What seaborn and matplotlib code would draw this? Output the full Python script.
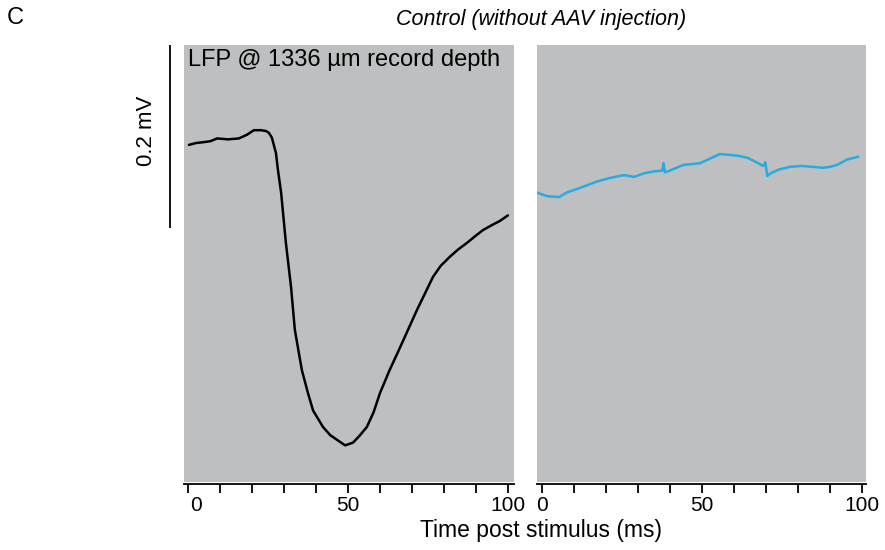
import numpy as np
import pandas as pd
import matplotlib
matplotlib.use("Agg")
import matplotlib.pyplot as plt
import matplotlib.transforms as mtransforms
import seaborn as sns

# ---- data (time in ms, voltage in mV) ----
lfp_time = [0.3, 2.5, 5.0, 7.0, 9.1, 12.5, 15.9, 18.4, 20.6, 22.8, 24.5, 25.3, 26.2,
            27.5, 28.1, 29.1, 30.6, 32.2, 33.4, 35.6, 37.5, 39.1, 42.2, 44.5, 46.6,
            49.1, 51.6, 53.5, 55.9, 58.0, 60.0, 63.0, 66.3, 71.6, 76.6, 79.0, 81.9,
            84.5, 87.2, 90.0, 92.2, 95.3, 97.5, 100.0]
lfp_mv = [0.000, 0.002, 0.003, 0.004, 0.007, 0.006, 0.007, 0.011, 0.016, 0.016, 0.015,
          0.013, 0.008, -0.009, -0.027, -0.052, -0.107, -0.155, -0.202, -0.246, -0.271,
          -0.290, -0.308, -0.317, -0.322, -0.328, -0.325, -0.318, -0.308, -0.292, -0.271,
          -0.246, -0.221, -0.180, -0.144, -0.132, -0.122, -0.114, -0.107, -0.099, -0.093,
          -0.087, -0.083, -0.077]

ctrl_time = [-1.6, 1.6, 5.3, 7.8, 11.9, 17.2, 21.3, 25.6, 28.8, 31.9, 35.0, 37.6, 38.0,
             38.4, 39.3, 44.1, 49.4, 52.5, 55.6, 58.8, 61.5, 64.1, 66.5, 69.1, 69.8,
             70.4, 71.5, 74.0, 77.5, 81.0, 84.7, 87.8, 90.0, 92.2, 95.3, 98.8]
ctrl_mv = [-0.052, -0.056, -0.057, -0.052, -0.047, -0.040, -0.036, -0.033, -0.035, -0.031,
           -0.029, -0.028, -0.020, -0.030, -0.029, -0.022, -0.020, -0.015, -0.010, -0.011,
           -0.012, -0.014, -0.018, -0.023, -0.019, -0.034, -0.031, -0.027, -0.024, -0.023,
           -0.024, -0.025, -0.024, -0.022, -0.016, -0.013]

tick_positions = [0, 10, 20, 30, 40, 50, 60, 70, 80, 90, 100]
tick_labels = ["0", "", "", "", "", "50", "", "", "", "", "100"]
scale_bar_mv = 0.2

panel_label = "C"
title_text = "Control (without AAV injection)"
inset_text = "LFP @ 1336 µm record depth"
xlabel_text = "Time post stimulus (ms)"
scale_text = "0.2 mV"

# ---- style ----
sns.set_theme(style="white")
plt.rcParams["font.family"] = ["Liberation Sans", "DejaVu Sans"]

GRAY = "#bdbfc0"
CYAN = "#29abe2"

fig = plt.figure(figsize=(8.85, 5.5), dpi=100)
W, H = 885, 550

def ax_rect(x0, x1, y0, y1):
    return [x0 / W, 1 - y1 / H, (x1 - x0) / W, (y1 - y0) / H]

ax1 = fig.add_axes(ax_rect(184, 514, 45, 482))
ax2 = fig.add_axes(ax_rect(537, 866, 45, 482))

df1 = pd.DataFrame({"t": lfp_time, "v": lfp_mv})
df2 = pd.DataFrame({"t": ctrl_time, "v": ctrl_mv})
sns.lineplot(data=df1, x="t", y="v", ax=ax1, color="black", linewidth=1.8, sort=False)
sns.lineplot(data=df2, x="t", y="v", ax=ax2, color=CYAN, linewidth=1.8, sort=False)
for ax in (ax1, ax2):
    for ln in ax.get_lines():
        ln.set_solid_joinstyle("round")

ylim = (-0.368, 0.109)
for ax, xl in ((ax1, (-1.25, 101.9)), (ax2, (-1.56, 101.25))):
    ax.set_facecolor(GRAY)
    ax.set_xlim(*xl)
    ax.set_ylim(*ylim)
    for s in ("top", "left", "right"):
        ax.spines[s].set_visible(False)
    ax.spines["bottom"].set_visible(True)
    ax.spines["bottom"].set_color("black")
    ax.spines["bottom"].set_linewidth(1.3)
    ax.spines["bottom"].set_position(("outward", 1.5))
    ax.set_yticks([])
    ax.set_xticks(tick_positions)
    ax.set_xticklabels(tick_labels)
    ax.tick_params(axis="x", direction="out", length=6.5, width=1.3, color="black",
                   pad=2, labelsize=15, labelcolor="black", bottom=True)
    ax.set_xlabel("")
    ax.set_ylabel("")

# shift left panel's "0" label slightly to the right (as in the reference)
lbl0 = ax1.get_xticklabels()[0]
lbl0.set_transform(lbl0.get_transform() + mtransforms.ScaledTranslation(8 / 100, 0, fig.dpi_scale_trans))

# scale bar (0.2 mV) to the left of the first panel
bar_x = -5.6
ax1.plot([bar_x, bar_x], [ylim[1], ylim[1] - scale_bar_mv], color="black", lw=1.3,
         clip_on=False, solid_capstyle="butt")
fig.text(146 / W, 1 - 131 / H, scale_text, rotation=90, ha="center", va="center",
         fontsize=16, color="black")

ax1.text(0.012, 0.99, inset_text, transform=ax1.transAxes, ha="left", va="top",
         fontsize=17, color="black")

fig.text(541 / W, 1 - 19 / H, title_text, ha="center", va="center", fontsize=15.5,
         style="italic", color="black")
fig.text(541 / W, 1 - 530 / H, xlabel_text, ha="center", va="center", fontsize=16.5,
         color="black")
fig.text(15 / W, 1 - 18 / H, panel_label, ha="center", va="center", fontsize=17,
         color="black")

fig.savefig("out.png", dpi=100, facecolor="white")
